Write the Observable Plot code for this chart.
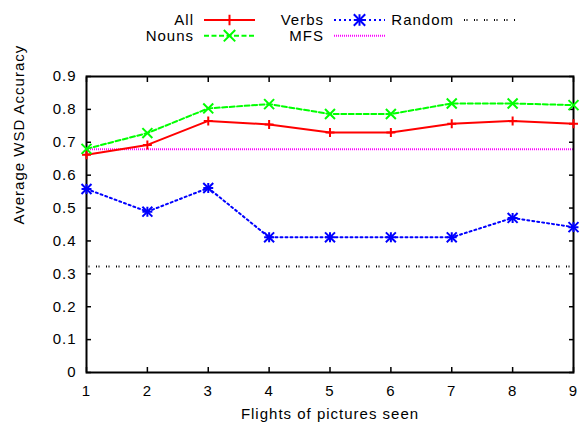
<!DOCTYPE html>
<html><head><meta charset="utf-8">
<script src="https://cdn.jsdelivr.net/npm/d3@7"></script>
<script src="https://cdn.jsdelivr.net/npm/@observablehq/plot@0.6"></script>
<style>
body{margin:0;background:#fff;font-family:"Liberation Sans",Arial,sans-serif;}
#wrap{width:582px;}
#legend{position:relative;width:582px;height:56px;}
#legend svg{position:absolute;left:0;top:0;}
</style></head><body><div id="wrap"><div id="legend"></div><div id="chart"></div></div>
<script>
// ---- data ----
const flights = [1, 2, 3, 4, 5, 6, 7, 8, 9];
const allAcc   = [0.662, 0.692, 0.765, 0.754, 0.730, 0.730, 0.756, 0.765, 0.756];
const nounsAcc = [0.680, 0.728, 0.803, 0.816, 0.786, 0.786, 0.818, 0.818, 0.813];
const verbsAcc = [0.558, 0.489, 0.561, 0.411, 0.411, 0.411, 0.411, 0.470, 0.442];
const mfsAcc = [0.679];
const randomAcc = [0.3225];
const yTicks = [0, 0.1, 0.2, 0.3, 0.4, 0.5, 0.6, 0.7, 0.8, 0.9];
const seriesNames = ["All", "Nouns", "Verbs", "MFS", "Random"];
const xTitle = "Flights of pictures seen";
const yTitle = "Average WSD Accuracy";

// ---- styles ----
const styles = {
  All:    {stroke: "#ff0000", dash: null,        symbols: [["plus", 3.0]]},
  Nouns:  {stroke: "#00ff00", dash: "5,2.5",     symbols: [["times", 4.6]]},
  Verbs:  {stroke: "#0000ff", dash: "2,3",       symbols: [["plus", 3.3], ["times", 4.6]]},
  MFS:    {stroke: "#ff00ff", dash: "1,1",       symbols: []},
  Random: {stroke: "#000000", dash: "1,1.5,1,6.5", symbols: []}
};
const FONT = "'Liberation Sans', Arial, sans-serif";

function seriesMarks(name, values) {
  const st = styles[name];
  const marks = [Plot.line(values, {x: (d, i) => flights[i], y: d => d, stroke: st.stroke,
    strokeWidth: 2, strokeDasharray: st.dash})];
  for (const [sym, r] of st.symbols) {
    marks.push(Plot.dot(values, {x: (d, i) => flights[i], y: d => d, symbol: sym, r,
      stroke: st.stroke, strokeWidth: 2, fill: "none"}));
  }
  return marks;
}

const chart = Plot.plot({
  width: 582, height: 366,
  marginTop: 20, marginBottom: 50, marginLeft: 86, marginRight: 9,
  style: {fontFamily: FONT, fontSize: "15px", letterSpacing: "1px", background: "#fff", overflow: "visible", color: "#000"},
  x: {domain: [1, 9]},
  y: {domain: [0, 0.9]},
  marks: [
    Plot.ruleY(mfsAcc, {stroke: styles.MFS.stroke, strokeWidth: 2, strokeDasharray: styles.MFS.dash}),
    Plot.ruleY(randomAcc, {stroke: styles.Random.stroke, strokeWidth: 2, strokeDasharray: styles.Random.dash}),
    // inward ticks on all sides
    Plot.axisX({anchor: "bottom", ticks: flights, tickSize: 5, dy: -5, fill: "none", label: null, strokeWidth: 1.5}),
    Plot.axisX({anchor: "top", ticks: flights, tickSize: 5, dy: 5, fill: "none", label: null, strokeWidth: 1.5}),
    Plot.axisY({anchor: "left", ticks: yTicks, tickSize: 5, dx: 5, fill: "none", label: null, strokeWidth: 1.5}),
    Plot.axisY({anchor: "right", ticks: yTicks, tickSize: 5, dx: -5, fill: "none", label: null, strokeWidth: 1.5}),
    // tick labels
    Plot.axisX({anchor: "bottom", ticks: flights, tickSize: 0, tickPadding: 12.5, label: null, tickFormat: d => String(d), fontSize: 15}),
    Plot.axisY({anchor: "left", ticks: yTicks, tickSize: 0, tickPadding: 10, label: null,
      tickFormat: d => d === 0 ? "0" : d3.format(".1f")(d), fontSize: 15}),
    Plot.frame({stroke: "#000", strokeWidth: 2}),
    ...seriesMarks("All", allAcc),
    ...seriesMarks("Nouns", nounsAcc),
    ...seriesMarks("Verbs", verbsAcc),
    Plot.text([xTitle], {frameAnchor: "bottom", dy: 35.4, lineAnchor: "top", text: d => d, fontSize: 15}),
    Plot.text([yTitle], {frameAnchor: "left", dx: -67, rotate: -90, text: d => d, fontSize: 15})
  ]
});
document.getElementById("chart").appendChild(chart);

// ---- legend (HTML block above the plot) ----
const legendItems = [
  {name: "All", col: 0, row: 0},
  {name: "Nouns", col: 0, row: 1},
  {name: "Verbs", col: 1, row: 0},
  {name: "MFS", col: 1, row: 1},
  {name: "Random", col: 2, row: 0}
];
const symMap = {plus: d3.symbolPlus, times: d3.symbolTimes};
const lsvg = d3.select("#legend").append("svg").attr("width", 582).attr("height", 56)
  .style("font-family", FONT).style("font-size", "15px").style("letter-spacing", "1px");
for (const it of legendItems) {
  const st = styles[it.name];
  const tx = 194 + it.col * 130, x1 = 204 + it.col * 130, x2 = 255 + it.col * 130;
  const ly = 20 + it.row * 15.7, by = 25 + it.row * 16;
  lsvg.append("text").attr("x", tx).attr("y", by).attr("text-anchor", "end").text(it.name);
  lsvg.append("line").attr("x1", x1).attr("x2", x2).attr("y1", ly).attr("y2", ly)
    .attr("stroke", st.stroke).attr("stroke-width", 2).attr("stroke-dasharray", st.dash);
  for (const [sym, r] of st.symbols) {
    lsvg.append("path").attr("d", d3.symbol(symMap[sym], Math.PI * r * r * 1.3)())
      .attr("transform", `translate(${(x1 + x2) / 2},${ly})`)
      .attr("fill", "none").attr("stroke", st.stroke).attr("stroke-width", 2);
  }
}
</script></body></html>
